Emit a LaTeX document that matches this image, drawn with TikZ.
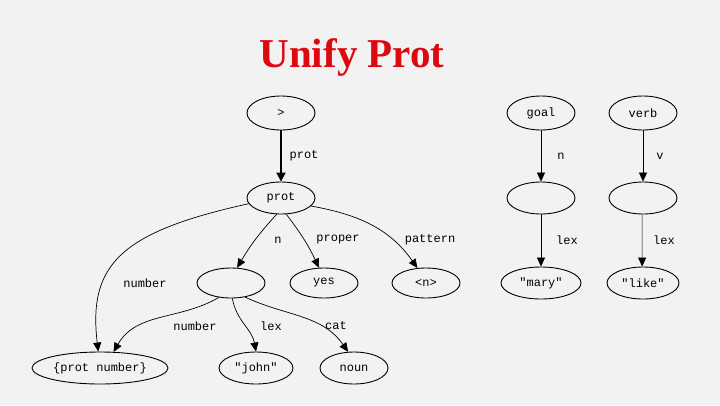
\documentclass[tikz,border=0pt]{standalone}
\usepackage{fontspec}
\setmainfont{Liberation Serif}
\setmonofont{Liberation Mono}
\usetikzlibrary{arrows.meta,shapes.geometric}
\definecolor{bg}{HTML}{F2F2F2}
\definecolor{titlered}{RGB}{222,8,16}
\tikzset{
  fs/.style={draw=black,line width=0.9pt,ellipse,inner sep=0pt,minimum height=32pt,font=\ttfamily\fontsize{12}{14}\selectfont},
  w68/.style={minimum width=68pt},
  lbl/.style={font=\ttfamily\fontsize{12}{14}\selectfont,anchor=center},
  edge/.style={line width=0.7pt,-{Triangle[length=9pt,width=8pt]}},
  thickedge/.style={line width=1.8pt,-{Triangle[length=9pt,width=9pt]}},
}
\begin{document}
\begin{tikzpicture}[x=1pt,y=-1pt]
\fill[bg] (0,0) rectangle (720,405);
\useasboundingbox (0,0) rectangle (720,405);
\node[font=\bfseries\fontsize{41}{46}\selectfont,text=titlered] (title) at (352,57) {Unify Prot};

\node[fs,w68,minimum height=34pt] (top) at (281,113) {>};
\node[fs,w68] (prot) at (281,198) {prot};
\node[fs,w68,minimum height=30pt] (e1) at (231,283) {};
\node[fs,w68,minimum height=30pt] (yes) at (324,283) {yes};
\node[fs,w68,minimum height=30pt] (n) at (426,283) {<n>};
\node[fs,minimum width=136pt] (pn) at (100,368) {\{prot number\}};
\node[fs,minimum width=74pt] (john) at (256,368) {"john"};
\node[fs,w68] (noun) at (354,368) {noun};

\node[fs,w68,minimum height=34pt] (goal) at (541,113) {goal};
\node[fs,w68,minimum height=34pt] (verb) at (643,113) {verb};
\node[fs,w68] (g2) at (541,198) {};
\node[fs,w68] (v2) at (643,198) {};
\node[fs,minimum width=80pt] (mary) at (541,283) {"mary"};
\node[fs,minimum width=72pt] (like) at (643,283) {"like"};

\draw[thickedge] (top) -- (prot);
\draw[edge] (prot.190) .. controls (120,232) and (88,265) .. (pn.96);
\draw[edge] (prot.-105) to[bend right=6] (e1.68);
\draw[edge] (prot.-72) to[bend left=6] (yes.108);
\draw[edge] (prot.-15) to[out=-10,in=125] (n.120);
\draw[edge] (e1.-130) to[out=-150,in=60] (pn.50);
\draw[edge] (e1.-85) to[out=-80,in=100] (john.90);
\draw[edge] (e1.-45) to[out=-25,in=125] (noun.110);

\draw[edge] (goal) -- (g2);
\draw[edge] (verb) -- (v2);
\draw[edge] (g2) -- (mary);
\draw[edge] (v2.-93) -- (like.93);

\node[lbl] (l1) at (304,156) {prot};
\node[lbl] (l2) at (145,283) {number};
\node[lbl] (l3) at (278,240) {n};
\node[lbl] (l4) at (338,240) {proper};
\node[lbl] (l5) at (430,240) {pattern};
\node[lbl] (l6) at (195,326) {number};
\node[lbl] (l7) at (271,326) {lex};
\node[lbl] (l8) at (336,326) {cat};
\node[lbl] (l9) at (561,156) {n};
\node[lbl] (l10) at (660,156) {v};
\node[lbl] (l11) at (567,240) {lex};
\node[lbl] (l12) at (664,240) {lex};
\end{tikzpicture}
\end{document}
